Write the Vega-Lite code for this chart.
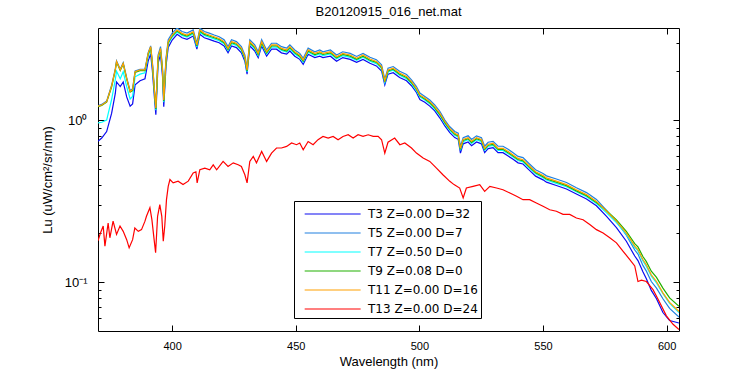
{
"$schema": "https://vega.github.io/schema/vega-lite/v6.json",
"width": 581, "height": 303,
"autosize": {"type": "none"},
"padding": {"left": 98, "top": 28, "right": 71, "bottom": 44},
"background": "white",
"config": {"font": "Liberation Sans", "view": {"stroke": "black", "strokeWidth": 1},
  "axis": {"grid": false, "domain": false, "tickColor": "black", "tickWidth": 1, "labelColor": "black", "titleColor": "black", "labelFont": "Liberation Sans", "titleFont": "Liberation Sans", "titleFontWeight": "normal"}},
"title": {"text": "B20120915_016_net.mat", "fontSize": 13, "fontWeight": "normal", "font": "Liberation Sans", "offset": 9, "color": "black"},
"data": {"values": [
{"s":"T3","w":370,"v":0.74},{"s":"T3","w":371.5,"v":0.775},{"s":"T3","w":373.5,"v":0.85},{"s":"T3","w":375.5,"v":1.10},{"s":"T3","w":377,"v":1.46},{"s":"T3","w":377.5,"v":1.72},{"s":"T3","w":379,"v":1.61},{"s":"T3","w":380.2,"v":1.72},{"s":"T3","w":381.6,"v":1.39},{"s":"T3","w":383,"v":1.22},{"s":"T3","w":384,"v":1.26},{"s":"T3","w":385,"v":1.65},{"s":"T3","w":387,"v":1.75},{"s":"T3","w":389,"v":1.80},{"s":"T3","w":390.3,"v":2.32},{"s":"T3","w":391.3,"v":2.56},{"s":"T3","w":392,"v":2.02},{"s":"T3","w":393,"v":1.27},{"s":"T3","w":393.4,"v":1.08},{"s":"T3","w":394.3,"v":2.24},{"s":"T3","w":395.3,"v":2.54},{"s":"T3","w":396.1,"v":1.86},{"s":"T3","w":396.6,"v":1.21},{"s":"T3","w":397.5,"v":2.15},{"s":"T3","w":398.4,"v":2.81},{"s":"T3","w":400,"v":3.12},{"s":"T3","w":402,"v":3.38},{"s":"T3","w":404,"v":3.22},{"s":"T3","w":406,"v":3.15},{"s":"T3","w":408.5,"v":3.30},{"s":"T3","w":410,"v":2.74},{"s":"T3","w":411.2,"v":3.38},{"s":"T3","w":413,"v":3.22},{"s":"T3","w":415,"v":3.15},{"s":"T3","w":417,"v":3.07},{"s":"T3","w":419,"v":3.00},{"s":"T3","w":421,"v":2.87},{"s":"T3","w":422.6,"v":2.60},{"s":"T3","w":424,"v":2.87},{"s":"T3","w":426,"v":2.80},{"s":"T3","w":428,"v":2.60},{"s":"T3","w":429.4,"v":2.31},{"s":"T3","w":430.3,"v":1.92},{"s":"T3","w":431.4,"v":2.87},{"s":"T3","w":433.4,"v":2.67},{"s":"T3","w":434.8,"v":2.43},{"s":"T3","w":436.2,"v":2.87},{"s":"T3","w":438.2,"v":2.48},{"s":"T3","w":440.2,"v":2.74},{"s":"T3","w":442.2,"v":2.74},{"s":"T3","w":444.2,"v":2.60},{"s":"T3","w":446.3,"v":2.55},{"s":"T3","w":447.6,"v":2.67},{"s":"T3","w":449.6,"v":2.48},{"s":"T3","w":451.6,"v":2.37},{"s":"T3","w":453,"v":2.21},{"s":"T3","w":455,"v":2.55},{"s":"T3","w":457.7,"v":2.43},{"s":"T3","w":459.7,"v":2.48},{"s":"T3","w":461,"v":2.43},{"s":"T3","w":464,"v":2.48},{"s":"T3","w":466.5,"v":2.31},{"s":"T3","w":469,"v":2.43},{"s":"T3","w":472,"v":2.37},{"s":"T3","w":474.6,"v":2.27},{"s":"T3","w":477.2,"v":2.37},{"s":"T3","w":480,"v":2.24},{"s":"T3","w":482.6,"v":2.16},{"s":"T3","w":484.7,"v":2.01},{"s":"T3","w":486,"v":1.65},{"s":"T3","w":487.3,"v":1.92},{"s":"T3","w":489.4,"v":1.96},{"s":"T3","w":492,"v":1.83},{"s":"T3","w":494.8,"v":1.75},{"s":"T3","w":496.8,"v":1.63},{"s":"T3","w":498.8,"v":1.48},{"s":"T3","w":500.2,"v":1.34},{"s":"T3","w":502.2,"v":1.29},{"s":"T3","w":504.2,"v":1.22},{"s":"T3","w":506.2,"v":1.14},{"s":"T3","w":508.3,"v":1.03},{"s":"T3","w":510.3,"v":0.92},{"s":"T3","w":512.3,"v":0.837},{"s":"T3","w":514.3,"v":0.78},{"s":"T3","w":515.7,"v":0.761},{"s":"T3","w":516.6,"v":0.626},{"s":"T3","w":517.7,"v":0.714},{"s":"T3","w":519.7,"v":0.733},{"s":"T3","w":521.1,"v":0.696},{"s":"T3","w":523.1,"v":0.733},{"s":"T3","w":525.1,"v":0.714},{"s":"T3","w":526.4,"v":0.63},{"s":"T3","w":527.8,"v":0.667},{"s":"T3","w":529.8,"v":0.677},{"s":"T3","w":531.8,"v":0.63},{"s":"T3","w":533.8,"v":0.63},{"s":"T3","w":535.9,"v":0.60},{"s":"T3","w":537.9,"v":0.573},{"s":"T3","w":539.9,"v":0.545},{"s":"T3","w":541.9,"v":0.536},{"s":"T3","w":544,"v":0.498},{"s":"T3","w":547,"v":0.451},{"s":"T3","w":550,"v":0.428},{"s":"T3","w":551.4,"v":0.414},{"s":"T3","w":555.4,"v":0.395},{"s":"T3","w":559.5,"v":0.376},{"s":"T3","w":563.5,"v":0.35},{"s":"T3","w":567.6,"v":0.326},{"s":"T3","w":571.6,"v":0.296},{"s":"T3","w":575.7,"v":0.255},{"s":"T3","w":579.7,"v":0.217},{"s":"T3","w":583.7,"v":0.179},{"s":"T3","w":587.1,"v":0.145},{"s":"T3","w":588.4,"v":0.136},{"s":"T3","w":590.4,"v":0.116},{"s":"T3","w":591.8,"v":0.105},{"s":"T3","w":593.8,"v":0.089},{"s":"T3","w":595.9,"v":0.079},{"s":"T3","w":598.5,"v":0.065},{"s":"T3","w":601.2,"v":0.058},{"s":"T3","w":605,"v":0.056},
{"s":"T5","w":370,"v":1.23},{"s":"T5","w":371.5,"v":1.25},{"s":"T5","w":373.5,"v":1.31},{"s":"T5","w":375.5,"v":1.64},{"s":"T5","w":377,"v":2.07},{"s":"T5","w":377.5,"v":2.32},{"s":"T5","w":379,"v":2.06},{"s":"T5","w":380.2,"v":2.26},{"s":"T5","w":381.6,"v":1.83},{"s":"T5","w":383,"v":1.52},{"s":"T5","w":384,"v":1.56},{"s":"T5","w":385,"v":2.01},{"s":"T5","w":387,"v":2.06},{"s":"T5","w":389,"v":2.06},{"s":"T5","w":390.3,"v":2.61},{"s":"T5","w":391.3,"v":2.87},{"s":"T5","w":392,"v":2.27},{"s":"T5","w":393,"v":1.43},{"s":"T5","w":393.4,"v":1.22},{"s":"T5","w":394.3,"v":2.52},{"s":"T5","w":395.3,"v":2.84},{"s":"T5","w":396.1,"v":2.09},{"s":"T5","w":396.6,"v":1.36},{"s":"T5","w":397.5,"v":2.41},{"s":"T5","w":398.4,"v":3.13},{"s":"T5","w":400,"v":3.44},{"s":"T5","w":402,"v":3.69},{"s":"T5","w":404,"v":3.52},{"s":"T5","w":406,"v":3.44},{"s":"T5","w":408.5,"v":3.60},{"s":"T5","w":410,"v":2.98},{"s":"T5","w":411.2,"v":3.69},{"s":"T5","w":413,"v":3.52},{"s":"T5","w":415,"v":3.44},{"s":"T5","w":417,"v":3.35},{"s":"T5","w":419,"v":3.27},{"s":"T5","w":421,"v":3.13},{"s":"T5","w":422.6,"v":2.84},{"s":"T5","w":424,"v":3.13},{"s":"T5","w":426,"v":3.05},{"s":"T5","w":428,"v":2.84},{"s":"T5","w":429.4,"v":2.52},{"s":"T5","w":430.3,"v":2.09},{"s":"T5","w":431.4,"v":3.13},{"s":"T5","w":433.4,"v":2.91},{"s":"T5","w":434.8,"v":2.64},{"s":"T5","w":436.2,"v":3.13},{"s":"T5","w":438.2,"v":2.71},{"s":"T5","w":440.2,"v":2.98},{"s":"T5","w":442.2,"v":2.98},{"s":"T5","w":444.2,"v":2.84},{"s":"T5","w":446.3,"v":2.78},{"s":"T5","w":447.6,"v":2.91},{"s":"T5","w":449.6,"v":2.71},{"s":"T5","w":451.6,"v":2.58},{"s":"T5","w":453,"v":2.41},{"s":"T5","w":455,"v":2.78},{"s":"T5","w":457.7,"v":2.64},{"s":"T5","w":459.7,"v":2.71},{"s":"T5","w":461,"v":2.64},{"s":"T5","w":464,"v":2.71},{"s":"T5","w":466.5,"v":2.52},{"s":"T5","w":469,"v":2.64},{"s":"T5","w":472,"v":2.58},{"s":"T5","w":474.6,"v":2.47},{"s":"T5","w":477.2,"v":2.58},{"s":"T5","w":480,"v":2.44},{"s":"T5","w":482.6,"v":2.36},{"s":"T5","w":484.7,"v":2.19},{"s":"T5","w":486,"v":1.79},{"s":"T5","w":487.3,"v":2.09},{"s":"T5","w":489.4,"v":2.14},{"s":"T5","w":492,"v":2.00},{"s":"T5","w":494.8,"v":1.91},{"s":"T5","w":496.8,"v":1.77},{"s":"T5","w":498.8,"v":1.61},{"s":"T5","w":500.2,"v":1.47},{"s":"T5","w":502.2,"v":1.40},{"s":"T5","w":504.2,"v":1.33},{"s":"T5","w":506.2,"v":1.24},{"s":"T5","w":508.3,"v":1.13},{"s":"T5","w":510.3,"v":1.00},{"s":"T5","w":512.3,"v":0.91},{"s":"T5","w":514.3,"v":0.85},{"s":"T5","w":515.7,"v":0.83},{"s":"T5","w":516.6,"v":0.69},{"s":"T5","w":517.7,"v":0.78},{"s":"T5","w":519.7,"v":0.80},{"s":"T5","w":521.1,"v":0.76},{"s":"T5","w":523.1,"v":0.80},{"s":"T5","w":525.1,"v":0.78},{"s":"T5","w":526.4,"v":0.69},{"s":"T5","w":527.8,"v":0.73},{"s":"T5","w":529.8,"v":0.74},{"s":"T5","w":531.8,"v":0.69},{"s":"T5","w":533.8,"v":0.69},{"s":"T5","w":535.9,"v":0.66},{"s":"T5","w":537.9,"v":0.628},{"s":"T5","w":539.9,"v":0.597},{"s":"T5","w":541.9,"v":0.587},{"s":"T5","w":544,"v":0.546},{"s":"T5","w":547,"v":0.494},{"s":"T5","w":550,"v":0.469},{"s":"T5","w":551.4,"v":0.453},{"s":"T5","w":555.4,"v":0.433},{"s":"T5","w":559.5,"v":0.412},{"s":"T5","w":563.5,"v":0.383},{"s":"T5","w":567.6,"v":0.357},{"s":"T5","w":571.6,"v":0.324},{"s":"T5","w":575.7,"v":0.277},{"s":"T5","w":579.7,"v":0.236},{"s":"T5","w":583.7,"v":0.195},{"s":"T5","w":587.1,"v":0.158},{"s":"T5","w":588.4,"v":0.149},{"s":"T5","w":590.4,"v":0.127},{"s":"T5","w":591.8,"v":0.117},{"s":"T5","w":593.8,"v":0.101},{"s":"T5","w":595.9,"v":0.092},{"s":"T5","w":598.5,"v":0.079},{"s":"T5","w":601.2,"v":0.069},{"s":"T5","w":605,"v":0.061},
{"s":"T7","w":370,"v":0.96},{"s":"T7","w":371.5,"v":0.97},{"s":"T7","w":373.5,"v":1.00},{"s":"T7","w":375.5,"v":1.34},{"s":"T7","w":377,"v":1.78},{"s":"T7","w":377.5,"v":2.00},{"s":"T7","w":379,"v":1.80},{"s":"T7","w":380.2,"v":1.99},{"s":"T7","w":381.6,"v":1.61},{"s":"T7","w":383,"v":1.35},{"s":"T7","w":384,"v":1.40},{"s":"T7","w":385,"v":1.85},{"s":"T7","w":387,"v":1.92},{"s":"T7","w":389,"v":1.96},{"s":"T7","w":390.3,"v":2.48},{"s":"T7","w":391.3,"v":2.75},{"s":"T7","w":392,"v":2.17},{"s":"T7","w":393,"v":1.36},{"s":"T7","w":393.4,"v":1.15},{"s":"T7","w":394.3,"v":2.39},{"s":"T7","w":395.3,"v":2.69},{"s":"T7","w":396.1,"v":1.98},{"s":"T7","w":396.6,"v":1.29},{"s":"T7","w":397.5,"v":2.28},{"s":"T7","w":398.4,"v":2.96},{"s":"T7","w":400,"v":3.25},{"s":"T7","w":402,"v":3.49},{"s":"T7","w":404,"v":3.33},{"s":"T7","w":406,"v":3.25},{"s":"T7","w":408.5,"v":3.40},{"s":"T7","w":410,"v":2.82},{"s":"T7","w":411.2,"v":3.49},{"s":"T7","w":413,"v":3.33},{"s":"T7","w":415,"v":3.25},{"s":"T7","w":417,"v":3.17},{"s":"T7","w":419,"v":3.09},{"s":"T7","w":421,"v":2.96},{"s":"T7","w":422.6,"v":2.69},{"s":"T7","w":424,"v":2.96},{"s":"T7","w":426,"v":2.89},{"s":"T7","w":428,"v":2.69},{"s":"T7","w":429.4,"v":2.39},{"s":"T7","w":430.3,"v":1.98},{"s":"T7","w":431.4,"v":2.96},{"s":"T7","w":433.4,"v":2.75},{"s":"T7","w":434.8,"v":2.50},{"s":"T7","w":436.2,"v":2.96},{"s":"T7","w":438.2,"v":2.56},{"s":"T7","w":440.2,"v":2.82},{"s":"T7","w":442.2,"v":2.82},{"s":"T7","w":444.2,"v":2.69},{"s":"T7","w":446.3,"v":2.63},{"s":"T7","w":447.6,"v":2.75},{"s":"T7","w":449.6,"v":2.56},{"s":"T7","w":451.6,"v":2.44},{"s":"T7","w":453,"v":2.28},{"s":"T7","w":455,"v":2.63},{"s":"T7","w":457.7,"v":2.50},{"s":"T7","w":459.7,"v":2.56},{"s":"T7","w":461,"v":2.50},{"s":"T7","w":464,"v":2.56},{"s":"T7","w":466.5,"v":2.39},{"s":"T7","w":469,"v":2.50},{"s":"T7","w":472,"v":2.44},{"s":"T7","w":474.6,"v":2.34},{"s":"T7","w":477.2,"v":2.44},{"s":"T7","w":480,"v":2.31},{"s":"T7","w":482.6,"v":2.23},{"s":"T7","w":484.7,"v":2.08},{"s":"T7","w":486,"v":1.70},{"s":"T7","w":487.3,"v":1.98},{"s":"T7","w":489.4,"v":2.03},{"s":"T7","w":492,"v":1.89},{"s":"T7","w":494.8,"v":1.80},{"s":"T7","w":496.8,"v":1.68},{"s":"T7","w":498.8,"v":1.52},{"s":"T7","w":500.2,"v":1.39},{"s":"T7","w":502.2,"v":1.33},{"s":"T7","w":504.2,"v":1.26},{"s":"T7","w":506.2,"v":1.17},{"s":"T7","w":508.3,"v":1.07},{"s":"T7","w":510.3,"v":0.95},{"s":"T7","w":512.3,"v":0.863},{"s":"T7","w":514.3,"v":0.805},{"s":"T7","w":515.7,"v":0.786},{"s":"T7","w":516.6,"v":0.65},{"s":"T7","w":517.7,"v":0.737},{"s":"T7","w":519.7,"v":0.757},{"s":"T7","w":521.1,"v":0.718},{"s":"T7","w":523.1,"v":0.757},{"s":"T7","w":525.1,"v":0.737},{"s":"T7","w":526.4,"v":0.65},{"s":"T7","w":527.8,"v":0.689},{"s":"T7","w":529.8,"v":0.698},{"s":"T7","w":531.8,"v":0.65},{"s":"T7","w":533.8,"v":0.65},{"s":"T7","w":535.9,"v":0.621},{"s":"T7","w":537.9,"v":0.592},{"s":"T7","w":539.9,"v":0.563},{"s":"T7","w":541.9,"v":0.553},{"s":"T7","w":544,"v":0.514},{"s":"T7","w":547,"v":0.466},{"s":"T7","w":550,"v":0.441},{"s":"T7","w":551.4,"v":0.427},{"s":"T7","w":555.4,"v":0.407},{"s":"T7","w":559.5,"v":0.388},{"s":"T7","w":563.5,"v":0.361},{"s":"T7","w":567.6,"v":0.337},{"s":"T7","w":571.6,"v":0.306},{"s":"T7","w":575.7,"v":0.268},{"s":"T7","w":579.7,"v":0.233},{"s":"T7","w":583.7,"v":0.197},{"s":"T7","w":587.1,"v":0.164},{"s":"T7","w":588.4,"v":0.156},{"s":"T7","w":590.4,"v":0.135},{"s":"T7","w":591.8,"v":0.125},{"s":"T7","w":593.8,"v":0.109},{"s":"T7","w":595.9,"v":0.099},{"s":"T7","w":598.5,"v":0.085},{"s":"T7","w":601.2,"v":0.074},{"s":"T7","w":605,"v":0.065},
{"s":"T9","w":370,"v":1.21},{"s":"T9","w":371.5,"v":1.23},{"s":"T9","w":373.5,"v":1.29},{"s":"T9","w":375.5,"v":1.60},{"s":"T9","w":377,"v":2.03},{"s":"T9","w":377.5,"v":2.28},{"s":"T9","w":379,"v":2.02},{"s":"T9","w":380.2,"v":2.22},{"s":"T9","w":381.6,"v":1.79},{"s":"T9","w":383,"v":1.49},{"s":"T9","w":384,"v":1.52},{"s":"T9","w":385,"v":1.97},{"s":"T9","w":387,"v":2.02},{"s":"T9","w":389,"v":2.02},{"s":"T9","w":390.3,"v":2.55},{"s":"T9","w":391.3,"v":2.81},{"s":"T9","w":392,"v":2.21},{"s":"T9","w":393,"v":1.38},{"s":"T9","w":393.4,"v":1.17},{"s":"T9","w":394.3,"v":2.42},{"s":"T9","w":395.3,"v":2.73},{"s":"T9","w":396.1,"v":2.01},{"s":"T9","w":396.6,"v":1.31},{"s":"T9","w":397.5,"v":2.31},{"s":"T9","w":398.4,"v":3.00},{"s":"T9","w":400,"v":3.30},{"s":"T9","w":402,"v":3.55},{"s":"T9","w":404,"v":3.38},{"s":"T9","w":406,"v":3.30},{"s":"T9","w":408.5,"v":3.46},{"s":"T9","w":410,"v":2.87},{"s":"T9","w":411.2,"v":3.55},{"s":"T9","w":413,"v":3.38},{"s":"T9","w":415,"v":3.30},{"s":"T9","w":417,"v":3.22},{"s":"T9","w":419,"v":3.14},{"s":"T9","w":421,"v":3.00},{"s":"T9","w":422.6,"v":2.73},{"s":"T9","w":424,"v":3.00},{"s":"T9","w":426,"v":2.94},{"s":"T9","w":428,"v":2.73},{"s":"T9","w":429.4,"v":2.42},{"s":"T9","w":430.3,"v":2.01},{"s":"T9","w":431.4,"v":3.00},{"s":"T9","w":433.4,"v":2.80},{"s":"T9","w":434.8,"v":2.54},{"s":"T9","w":436.2,"v":3.00},{"s":"T9","w":438.2,"v":2.60},{"s":"T9","w":440.2,"v":2.87},{"s":"T9","w":442.2,"v":2.87},{"s":"T9","w":444.2,"v":2.73},{"s":"T9","w":446.3,"v":2.67},{"s":"T9","w":447.6,"v":2.80},{"s":"T9","w":449.6,"v":2.60},{"s":"T9","w":451.6,"v":2.48},{"s":"T9","w":453,"v":2.31},{"s":"T9","w":455,"v":2.67},{"s":"T9","w":457.7,"v":2.54},{"s":"T9","w":459.7,"v":2.60},{"s":"T9","w":461,"v":2.54},{"s":"T9","w":464,"v":2.60},{"s":"T9","w":466.5,"v":2.42},{"s":"T9","w":469,"v":2.54},{"s":"T9","w":472,"v":2.48},{"s":"T9","w":474.6,"v":2.37},{"s":"T9","w":477.2,"v":2.48},{"s":"T9","w":480,"v":2.34},{"s":"T9","w":482.6,"v":2.27},{"s":"T9","w":484.7,"v":2.11},{"s":"T9","w":486,"v":1.72},{"s":"T9","w":487.3,"v":2.01},{"s":"T9","w":489.4,"v":2.06},{"s":"T9","w":492,"v":1.92},{"s":"T9","w":494.8,"v":1.83},{"s":"T9","w":496.8,"v":1.70},{"s":"T9","w":498.8,"v":1.55},{"s":"T9","w":500.2,"v":1.41},{"s":"T9","w":502.2,"v":1.35},{"s":"T9","w":504.2,"v":1.28},{"s":"T9","w":506.2,"v":1.19},{"s":"T9","w":508.3,"v":1.08},{"s":"T9","w":510.3,"v":0.965},{"s":"T9","w":512.3,"v":0.877},{"s":"T9","w":514.3,"v":0.818},{"s":"T9","w":515.7,"v":0.798},{"s":"T9","w":516.6,"v":0.66},{"s":"T9","w":517.7,"v":0.749},{"s":"T9","w":519.7,"v":0.768},{"s":"T9","w":521.1,"v":0.729},{"s":"T9","w":523.1,"v":0.768},{"s":"T9","w":525.1,"v":0.749},{"s":"T9","w":526.4,"v":0.66},{"s":"T9","w":527.8,"v":0.70},{"s":"T9","w":529.8,"v":0.709},{"s":"T9","w":531.8,"v":0.66},{"s":"T9","w":533.8,"v":0.66},{"s":"T9","w":535.9,"v":0.63},{"s":"T9","w":537.9,"v":0.60},{"s":"T9","w":539.9,"v":0.571},{"s":"T9","w":541.9,"v":0.561},{"s":"T9","w":544,"v":0.522},{"s":"T9","w":547,"v":0.473},{"s":"T9","w":550,"v":0.448},{"s":"T9","w":551.4,"v":0.433},{"s":"T9","w":555.4,"v":0.414},{"s":"T9","w":559.5,"v":0.394},{"s":"T9","w":563.5,"v":0.366},{"s":"T9","w":567.6,"v":0.342},{"s":"T9","w":571.6,"v":0.31},{"s":"T9","w":575.7,"v":0.276},{"s":"T9","w":579.7,"v":0.242},{"s":"T9","w":583.7,"v":0.206},{"s":"T9","w":587.1,"v":0.173},{"s":"T9","w":588.4,"v":0.165},{"s":"T9","w":590.4,"v":0.144},{"s":"T9","w":591.8,"v":0.134},{"s":"T9","w":593.8,"v":0.117},{"s":"T9","w":595.9,"v":0.107},{"s":"T9","w":598.5,"v":0.092},{"s":"T9","w":601.2,"v":0.080},{"s":"T9","w":605,"v":0.071},
{"s":"T11","w":370,"v":1.22},{"s":"T11","w":371.5,"v":1.24},{"s":"T11","w":373.5,"v":1.30},{"s":"T11","w":375.5,"v":1.62},{"s":"T11","w":377,"v":2.05},{"s":"T11","w":377.5,"v":2.30},{"s":"T11","w":379,"v":2.04},{"s":"T11","w":380.2,"v":2.24},{"s":"T11","w":381.6,"v":1.81},{"s":"T11","w":383,"v":1.50},{"s":"T11","w":384,"v":1.54},{"s":"T11","w":385,"v":1.99},{"s":"T11","w":387,"v":2.04},{"s":"T11","w":389,"v":2.04},{"s":"T11","w":390.3,"v":2.58},{"s":"T11","w":391.3,"v":2.84},{"s":"T11","w":392,"v":2.24},{"s":"T11","w":393,"v":1.40},{"s":"T11","w":393.4,"v":1.19},{"s":"T11","w":394.3,"v":2.46},{"s":"T11","w":395.3,"v":2.77},{"s":"T11","w":396.1,"v":2.04},{"s":"T11","w":396.6,"v":1.33},{"s":"T11","w":397.5,"v":2.35},{"s":"T11","w":398.4,"v":3.05},{"s":"T11","w":400,"v":3.35},{"s":"T11","w":402,"v":3.60},{"s":"T11","w":404,"v":3.43},{"s":"T11","w":406,"v":3.35},{"s":"T11","w":408.5,"v":3.51},{"s":"T11","w":410,"v":2.91},{"s":"T11","w":411.2,"v":3.60},{"s":"T11","w":413,"v":3.43},{"s":"T11","w":415,"v":3.35},{"s":"T11","w":417,"v":3.27},{"s":"T11","w":419,"v":3.19},{"s":"T11","w":421,"v":3.05},{"s":"T11","w":422.6,"v":2.77},{"s":"T11","w":424,"v":3.05},{"s":"T11","w":426,"v":2.98},{"s":"T11","w":428,"v":2.77},{"s":"T11","w":429.4,"v":2.46},{"s":"T11","w":430.3,"v":2.04},{"s":"T11","w":431.4,"v":3.05},{"s":"T11","w":433.4,"v":2.84},{"s":"T11","w":434.8,"v":2.58},{"s":"T11","w":436.2,"v":3.05},{"s":"T11","w":438.2,"v":2.64},{"s":"T11","w":440.2,"v":2.91},{"s":"T11","w":442.2,"v":2.91},{"s":"T11","w":444.2,"v":2.77},{"s":"T11","w":446.3,"v":2.71},{"s":"T11","w":447.6,"v":2.84},{"s":"T11","w":449.6,"v":2.64},{"s":"T11","w":451.6,"v":2.52},{"s":"T11","w":453,"v":2.35},{"s":"T11","w":455,"v":2.71},{"s":"T11","w":457.7,"v":2.58},{"s":"T11","w":459.7,"v":2.64},{"s":"T11","w":461,"v":2.58},{"s":"T11","w":464,"v":2.64},{"s":"T11","w":466.5,"v":2.46},{"s":"T11","w":469,"v":2.58},{"s":"T11","w":472,"v":2.52},{"s":"T11","w":474.6,"v":2.41},{"s":"T11","w":477.2,"v":2.52},{"s":"T11","w":480,"v":2.38},{"s":"T11","w":482.6,"v":2.30},{"s":"T11","w":484.7,"v":2.14},{"s":"T11","w":486,"v":1.75},{"s":"T11","w":487.3,"v":2.04},{"s":"T11","w":489.4,"v":2.09},{"s":"T11","w":492,"v":1.95},{"s":"T11","w":494.8,"v":1.86},{"s":"T11","w":496.8,"v":1.73},{"s":"T11","w":498.8,"v":1.57},{"s":"T11","w":500.2,"v":1.43},{"s":"T11","w":502.2,"v":1.37},{"s":"T11","w":504.2,"v":1.30},{"s":"T11","w":506.2,"v":1.21},{"s":"T11","w":508.3,"v":1.10},{"s":"T11","w":510.3,"v":0.98},{"s":"T11","w":512.3,"v":0.89},{"s":"T11","w":514.3,"v":0.83},{"s":"T11","w":515.7,"v":0.81},{"s":"T11","w":516.6,"v":0.67},{"s":"T11","w":517.7,"v":0.76},{"s":"T11","w":519.7,"v":0.78},{"s":"T11","w":521.1,"v":0.74},{"s":"T11","w":523.1,"v":0.78},{"s":"T11","w":525.1,"v":0.76},{"s":"T11","w":526.4,"v":0.67},{"s":"T11","w":527.8,"v":0.71},{"s":"T11","w":529.8,"v":0.72},{"s":"T11","w":531.8,"v":0.67},{"s":"T11","w":533.8,"v":0.67},{"s":"T11","w":535.9,"v":0.64},{"s":"T11","w":537.9,"v":0.61},{"s":"T11","w":539.9,"v":0.58},{"s":"T11","w":541.9,"v":0.57},{"s":"T11","w":544,"v":0.53},{"s":"T11","w":547,"v":0.48},{"s":"T11","w":550,"v":0.455},{"s":"T11","w":551.4,"v":0.44},{"s":"T11","w":555.4,"v":0.42},{"s":"T11","w":559.5,"v":0.40},{"s":"T11","w":563.5,"v":0.372},{"s":"T11","w":567.6,"v":0.347},{"s":"T11","w":571.6,"v":0.315},{"s":"T11","w":575.7,"v":0.274},{"s":"T11","w":579.7,"v":0.238},{"s":"T11","w":583.7,"v":0.201},{"s":"T11","w":587.1,"v":0.167},{"s":"T11","w":588.4,"v":0.159},{"s":"T11","w":590.4,"v":0.138},{"s":"T11","w":591.8,"v":0.128},{"s":"T11","w":593.8,"v":0.111},{"s":"T11","w":595.9,"v":0.101},{"s":"T11","w":598.5,"v":0.086},{"s":"T11","w":601.2,"v":0.075},{"s":"T11","w":605,"v":0.066},
{"s":"T13","w":370,"v":0.18},{"s":"T13","w":371,"v":0.201},{"s":"T13","w":372.1,"v":0.222},{"s":"T13","w":372.8,"v":0.167},{"s":"T13","w":374.1,"v":0.232},{"s":"T13","w":374.8,"v":0.188},{"s":"T13","w":376.1,"v":0.238},{"s":"T13","w":377.5,"v":0.197},{"s":"T13","w":378.9,"v":0.222},{"s":"T13","w":380.2,"v":0.206},{"s":"T13","w":381.6,"v":0.183},{"s":"T13","w":382.6,"v":0.163},{"s":"T13","w":384,"v":0.183},{"s":"T13","w":384.9,"v":0.216},{"s":"T13","w":386.3,"v":0.206},{"s":"T13","w":387.6,"v":0.211},{"s":"T13","w":389,"v":0.238},{"s":"T13","w":389.6,"v":0.255},{"s":"T13","w":391,"v":0.288},{"s":"T13","w":391.8,"v":0.243},{"s":"T13","w":392.7,"v":0.183},{"s":"T13","w":393.3,"v":0.152},{"s":"T13","w":394.1,"v":0.255},{"s":"T13","w":395,"v":0.301},{"s":"T13","w":395.8,"v":0.255},{"s":"T13","w":396.4,"v":0.179},{"s":"T13","w":397,"v":0.222},{"s":"T13","w":397.7,"v":0.323},{"s":"T13","w":398.4,"v":0.39},{"s":"T13","w":399.1,"v":0.43},{"s":"T13","w":400.4,"v":0.41},{"s":"T13","w":402.4,"v":0.42},{"s":"T13","w":404.4,"v":0.40},{"s":"T13","w":406.5,"v":0.42},{"s":"T13","w":408.5,"v":0.472},{"s":"T13","w":409.6,"v":0.48},{"s":"T13","w":410.1,"v":0.41},{"s":"T13","w":411.2,"v":0.494},{"s":"T13","w":413.2,"v":0.506},{"s":"T13","w":415.2,"v":0.494},{"s":"T13","w":416.6,"v":0.53},{"s":"T13","w":418,"v":0.494},{"s":"T13","w":420.6,"v":0.556},{"s":"T13","w":422.6,"v":0.518},{"s":"T13","w":424.7,"v":0.545},{"s":"T13","w":426.7,"v":0.53},{"s":"T13","w":428,"v":0.518},{"s":"T13","w":429.4,"v":0.46},{"s":"T13","w":430.3,"v":0.41},{"s":"T13","w":431.4,"v":0.556},{"s":"T13","w":432.8,"v":0.597},{"s":"T13","w":434.1,"v":0.545},{"s":"T13","w":436.2,"v":0.641},{"s":"T13","w":438.2,"v":0.556},{"s":"T13","w":440.2,"v":0.626},{"s":"T13","w":442.2,"v":0.673},{"s":"T13","w":444.2,"v":0.673},{"s":"T13","w":446.3,"v":0.688},{"s":"T13","w":448.3,"v":0.722},{"s":"T13","w":450.3,"v":0.705},{"s":"T13","w":451.6,"v":0.722},{"s":"T13","w":453,"v":0.656},{"s":"T13","w":455,"v":0.738},{"s":"T13","w":457,"v":0.705},{"s":"T13","w":459,"v":0.757},{"s":"T13","w":461,"v":0.793},{"s":"T13","w":463.1,"v":0.775},{"s":"T13","w":465.1,"v":0.793},{"s":"T13","w":467.1,"v":0.757},{"s":"T13","w":469.1,"v":0.793},{"s":"T13","w":471.2,"v":0.812},{"s":"T13","w":473.2,"v":0.775},{"s":"T13","w":475.2,"v":0.812},{"s":"T13","w":477.2,"v":0.793},{"s":"T13","w":479.3,"v":0.812},{"s":"T13","w":481.3,"v":0.793},{"s":"T13","w":483.3,"v":0.793},{"s":"T13","w":484.7,"v":0.757},{"s":"T13","w":486,"v":0.626},{"s":"T13","w":487.3,"v":0.73},{"s":"T13","w":490,"v":0.775},{"s":"T13","w":492.1,"v":0.705},{"s":"T13","w":494.1,"v":0.722},{"s":"T13","w":496.8,"v":0.673},{"s":"T13","w":498.8,"v":0.626},{"s":"T13","w":501.5,"v":0.583},{"s":"T13","w":504.2,"v":0.556},{"s":"T13","w":506.9,"v":0.506},{"s":"T13","w":509.5,"v":0.46},{"s":"T13","w":512.3,"v":0.419},{"s":"T13","w":514,"v":0.40},{"s":"T13","w":516.3,"v":0.381},{"s":"T13","w":517.7,"v":0.331},{"s":"T13","w":519,"v":0.381},{"s":"T13","w":521.7,"v":0.39},{"s":"T13","w":524.4,"v":0.40},{"s":"T13","w":526.4,"v":0.363},{"s":"T13","w":528.5,"v":0.39},{"s":"T13","w":531.2,"v":0.381},{"s":"T13","w":533.8,"v":0.372},{"s":"T13","w":536.6,"v":0.355},{"s":"T13","w":539.3,"v":0.339},{"s":"T13","w":541.9,"v":0.323},{"s":"T13","w":544.6,"v":0.323},{"s":"T13","w":547.3,"v":0.308},{"s":"T13","w":550,"v":0.294},{"s":"T13","w":552.7,"v":0.28},{"s":"T13","w":555.4,"v":0.274},{"s":"T13","w":558.1,"v":0.262},{"s":"T13","w":560.8,"v":0.262},{"s":"T13","w":563.5,"v":0.249},{"s":"T13","w":566.2,"v":0.243},{"s":"T13","w":568.9,"v":0.227},{"s":"T13","w":571.6,"v":0.211},{"s":"T13","w":574.3,"v":0.201},{"s":"T13","w":577,"v":0.188},{"s":"T13","w":579.7,"v":0.175},{"s":"T13","w":582.4,"v":0.155},{"s":"T13","w":585.1,"v":0.138},{"s":"T13","w":587.1,"v":0.126},{"s":"T13","w":588.4,"v":0.101},{"s":"T13","w":589.8,"v":0.103},{"s":"T13","w":591.8,"v":0.101},{"s":"T13","w":594.5,"v":0.09},{"s":"T13","w":597.2,"v":0.075},{"s":"T13","w":599.9,"v":0.062},{"s":"T13","w":602.6,"v":0.055},{"s":"T13","w":605,"v":0.051}
]},
"layer": [
 {"mark": {"type": "line", "strokeWidth": 1.2, "clip": true},
  "encoding": {
   "x": {"field": "w", "type": "quantitative", "scale": {"domain": [370, 605], "nice": false, "zero": false},
     "axis": {"orient": "bottom", "values": [400, 450, 500, 550, 600], "tickSize": -6, "labelPadding": 15, "labelFontSize": 11, "labelFlush": false, "title": "Wavelength (nm)", "titleFontSize": 13, "titlePadding": 4}},
   "y": {"field": "v", "type": "quantitative", "scale": {"type": "log", "domain": [0.05, 3.7], "nice": false},
     "axis": {"orient": "left", "values": [0.06, 0.07, 0.08, 0.09, 0.1, 0.2, 0.3, 0.4, 0.5, 0.6, 0.7, 0.8, 0.9, 1, 2, 3],
       "tickSize": {"condition": {"test": "datum.value == 1 || datum.value == 0.1", "value": -6}, "value": -3},
       "labelExpr": "datum.value == 1 ? '10⁰' : (datum.value == 0.1 ? '10⁻¹' : '')",
       "labelPadding": 17, "labelFontSize": 13, "title": "Lu (uW/cm²/sr/nm)", "titleFontSize": 13, "titlePadding": 10}},
   "color": {"field": "s", "type": "nominal",
     "scale": {"domain": ["T3", "T5", "T7", "T9", "T11", "T13"], "range": ["#0a0af0", "#2080e0", "#00ffff", "#20b000", "#ffa000", "#ff0000"]},
     "legend": {"orient": "none", "legendX": 196, "legendY": 173, "title": null, "symbolType": "M-1,0H5", "symbolSize": 348, "symbolStrokeWidth": 1.2, "symbolFillColor": "transparent", "symbolOffset": 7,
       "labelFontSize": 12, "labelFont": "DejaVu Sans", "labelColor": "black", "strokeColor": "black", "fillColor": "white", "padding": 3, "rowPadding": 3, "labelOffset": 44,
       "labelExpr": "datum.label == 'T3' ? 'T3 Z=0.00 D=32' : datum.label == 'T5' ? 'T5 Z=0.00 D=7' : datum.label == 'T7' ? 'T7 Z=0.50 D=0' : datum.label == 'T9' ? 'T9 Z=0.08 D=0' : datum.label == 'T11' ? 'T11 Z=0.00 D=16' : 'T13 Z=0.00 D=24'"}}
  }},
 {"data": {"values": [{}]},
  "mark": {"type": "point", "opacity": 0},
  "encoding": {
   "x": {"datum": 400, "type": "quantitative", "axis": {"orient": "top", "values": [400, 450, 500, 550, 600], "tickSize": -6, "labels": false, "title": null}},
   "y": {"datum": 1, "type": "quantitative", "axis": {"orient": "right", "values": [0.06, 0.07, 0.08, 0.09, 0.1, 0.2, 0.3, 0.4, 0.5, 0.6, 0.7, 0.8, 0.9, 1, 2, 3],
       "tickSize": {"condition": {"test": "datum.value == 1 || datum.value == 0.1", "value": -6}, "value": -3}, "labels": false, "title": null}}
  }}
],
"resolve": {"axis": {"x": "independent", "y": "independent"}}
}
